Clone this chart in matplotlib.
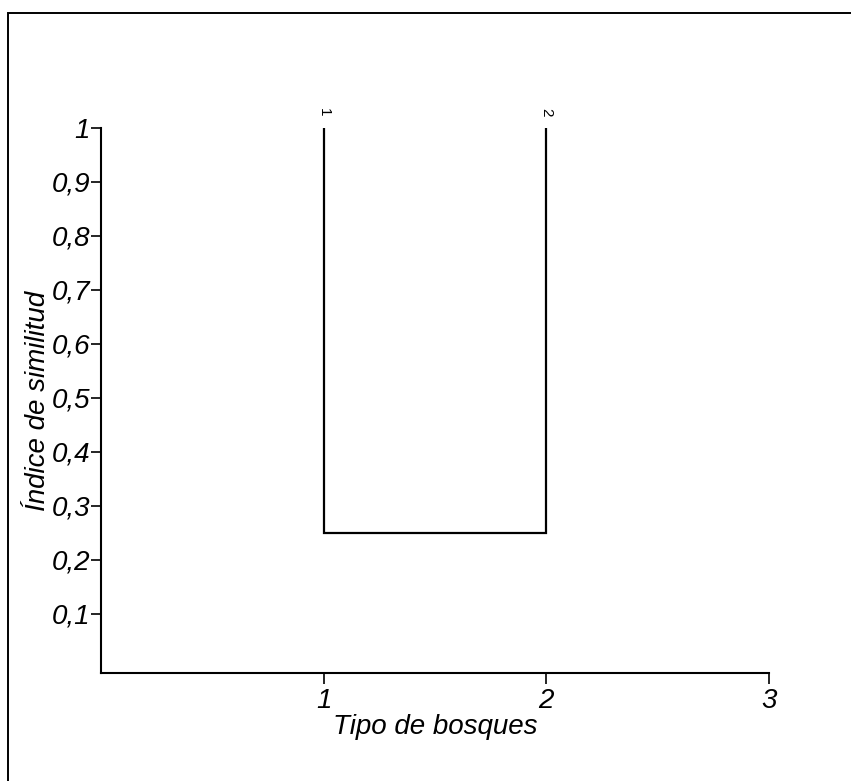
import matplotlib
matplotlib.use("Agg")
import matplotlib.pyplot as plt
from matplotlib.patches import Rectangle

# dendrogram data
leaves = [1, 2]
leaf_labels = ["1", "2"]
leaf_height = 1.0
merge_height = 0.25

yticks = [0.1, 0.2, 0.3, 0.4, 0.5, 0.6, 0.7, 0.8, 0.9, 1.0]
ytick_labels = ["0,1", "0,2", "0,3", "0,4", "0,5", "0,6", "0,7", "0,8", "0,9", "1"]
xticks = [1, 2, 3]
xtick_labels = ["1", "2", "3"]

plt.rcParams['font.family'] = ['Liberation Sans', 'DejaVu Sans']
plt.rcParams['font.style'] = 'italic'

fig = plt.figure(figsize=(8.51, 7.81), dpi=100)
ax = fig.add_axes([101 / 851, 1 - 673 / 781, 668 / 851, 545 / 781])

# outer frame (left and top visible, rest cut off)
fig.patches.append(Rectangle((8 / 851, -0.1), 1.2, 1 - 13 / 781 + 0.1,
                             transform=fig.transFigure, fill=False,
                             edgecolor="black", linewidth=1.4))

ax.plot([leaves[0], leaves[0], leaves[1], leaves[1]],
        [leaf_height, merge_height, merge_height, leaf_height],
        color="black", linewidth=1.6, solid_joinstyle="miter")

for x, lab in zip(leaves, leaf_labels):
    ax.text(x, leaf_height + 0.03, lab, rotation=-90, ha="center", va="center",
            fontsize=11, style="normal")

ax.set_xlim(0, 3)
ax.set_ylim(-0.01, 1)
ax.spines["top"].set_visible(False)
ax.spines["right"].set_visible(False)
ax.spines["left"].set_linewidth(1.5)
ax.spines["bottom"].set_linewidth(1.5)
ax.spines["left"].set_bounds(-0.01, 1)

ax.set_yticks(yticks)
ax.set_yticklabels(ytick_labels, fontsize=20)
ax.set_xticks(xticks)
ax.set_xticklabels(xtick_labels, fontsize=20)
ax.tick_params(axis="y", direction="out", length=7, width=1.2, pad=1)
ax.tick_params(axis="x", direction="out", length=8, width=1.2, pad=3)

ax.set_xlabel("Tipo de bosques", fontsize=20, labelpad=0)
ax.set_ylabel("Índice de similitud", fontsize=20, labelpad=0)

fig.savefig("out.png", dpi=100)
